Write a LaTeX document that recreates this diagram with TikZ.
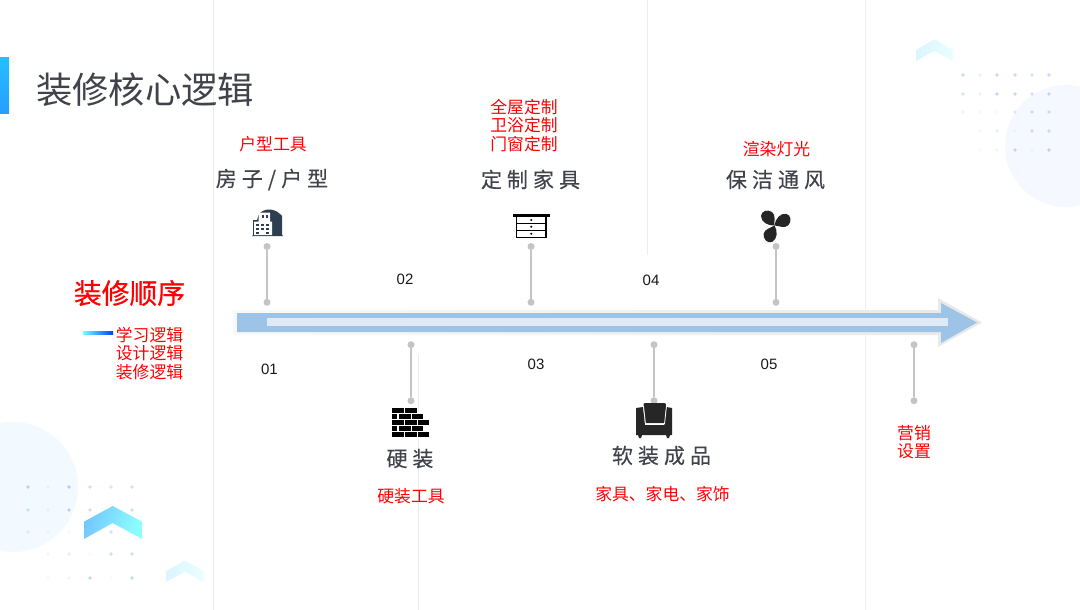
\documentclass[tikz,border=0pt]{standalone}
\usepackage{fontspec}
\usepackage{xcolor}
\usepackage{tikz}
\usetikzlibrary{positioning,shadings}
\setmainfont{Noto Sans CJK SC}
\newfontfamily\trackfont[LetterSpace=24,FakeBold=0.25]{Noto Sans CJK SC}
\newfontfamily\orderfont[FakeBold=0.6]{Noto Sans CJK SC}
\newfontfamily\numfont{Liberation Sans}
\definecolor{inkgray}{RGB}{64,68,74}
\definecolor{stemgray}{RGB}{196,196,196}
\definecolor{guide}{RGB}{238,238,238}
\definecolor{halo}{RGB}{232,232,232}
\definecolor{arrowblue}{RGB}{157,195,230}
\definecolor{arrowpale}{RGB}{222,235,247}
\definecolor{darkicon}{RGB}{38,38,38}
\definecolor{navyicon}{RGB}{44,62,80}
\definecolor{paleleft}{RGB}{243,250,255}
\definecolor{paleright}{RGB}{245,249,255}
\definecolor{speck}{RGB}{90,150,240}

\begin{document}
\begin{tikzpicture}[
  x=1pt, y=-1pt, on grid,
  dot/.style={circle, fill=stemgray, inner sep=0pt, minimum size=7pt},
  stem/.style={draw=stemgray, line width=1.5pt},
  gline/.style={draw=guide, line width=1pt},
  heading/.style={font=\trackfont\fontsize{21}{24}\selectfont, text=inkgray, inner sep=0pt},
  redtext/.style={font=\fontsize{16.8}{18.4}\selectfont, text=red, align=center, inner sep=0pt},
  num/.style={font=\numfont\fontsize{15}{18}\selectfont, text=black!90, inner sep=0pt}
]
\useasboundingbox (0,0) rectangle (1080,610);

% background
\fill[white] (0,0) rectangle (1080,610);
\fill[paleleft] (13,487) circle (65);
\fill[paleright] (1066,146) circle (61);
\draw[gline] (213,0) -- (213,610);
\draw[gline] (865,0) -- (865,610);
\draw[gline] (647,0) -- (647,255);
\draw[gline] (418,354) -- (418,610);
\foreach \x/\y/\o in {28/487/40,48/487/10,69/487/45,90/487/30,111/487/25,132/487/30,
  28/510/25,48/510/10,69/510/40,90/510/30,111/510/30,132/510/30,
  28/532/15,48/532/6,69/532/4,90/532/25,111/532/25,132/532/25,
  48/554/8,69/554/15,90/554/4,111/554/30,132/554/30,
  48/578/5,69/578/10,90/578/35,111/578/5,132/578/35,
  963/75/35,980/75/12,997/75/35,1015/75/35,1032/75/25,1049/75/35,
  963/94/25,980/94/12,997/94/35,1015/94/35,1032/94/25,1049/94/35,
  963/112/12,980/112/6,997/112/6,1015/112/20,1032/112/30,1049/112/30,
  980/131/8,997/131/15,1015/131/6,1032/131/30,1049/131/30,
  980/150/5,997/150/10,1015/150/35,1032/150/8,1049/150/40}
  \fill[speck, opacity=\o/100] (\x,\y) circle (1.9);
\shade[left color=blue!40!cyan!55, right color=cyan!45, shading angle=70]
  (84,521.7) -- (112.7,506) -- (142,521.7) -- (142,539) -- (112.7,523) -- (84,539) -- cycle;
\shade[left color=blue!30!cyan!14, right color=cyan!9]
  (166,571) -- (185,560.7) -- (203.7,571) -- (203.7,582) -- (185,571.7) -- (166,582) -- cycle;
\shade[left color=blue!30!cyan!14, right color=cyan!9]
  (916,50) -- (934.3,39.3) -- (953,50) -- (953,61) -- (934.3,50.7) -- (916,61) -- cycle;

% title
\shade[top color=cyan!70!blue!85, bottom color=blue!45!cyan!85] (0,58) rectangle (9,114);
\node[font=\fontsize{36.3}{40}\selectfont, text=inkgray, inner sep=0pt] (title) at (145,89.5) {装修核心逻辑};

% left column
\node[font=\orderfont\fontsize{27.8}{30}\selectfont, text=red, inner sep=0pt] (order) at (129.5,293) {装修顺序};
\node[redtext] (logic) at (149.5,353.5) {学习逻辑\\设计逻辑\\装修逻辑};
\shade[left color=cyan!55, right color=blue!75!cyan] (83,331.7) rectangle (113,334.3);

% main arrow
\shade[left color=halo!25, right color=halo, middle color=halo!60] (233,310) -- (938,310) -- (938,298) -- (982,322.5) -- (938,347) -- (938,335) -- (233,335) -- cycle;
\fill[arrowblue] (237,313) -- (941,313) -- (941,303) -- (977,322.5) -- (941,343) -- (941,332) -- (237,332) -- cycle;
\fill[arrowpale] (267,318) rectangle (948,326);

% upper stems
\node[dot] (fang) at (267,246.5) {};
\node[dot, below=55.8pt of fang] (fangb) {};
\node[dot] (ding) at (531,246.5) {};
\node[dot, below=55.8pt of ding] (dingb) {};
\node[dot] (bao) at (776,246.5) {};
\node[dot, below=55.8pt of bao] (baob) {};
\draw[stem] (fang) -- (fangb);
\draw[stem] (ding) -- (dingb);
\draw[stem] (bao) -- (baob);

% lower stems
\node[dot] (ying) at (411,344.7) {};
\node[dot, below=56pt of ying] (yingb) {};
\node[dot] (ruan) at (654,344.7) {};
\node[dot, below=56pt of ruan] (ruanb) {};
\node[dot] (xiao) at (914,344.7) {};
\node[dot, below=56pt of xiao] (xiaob) {};
\draw[stem] (ying) -- (yingb);
\draw[stem] (ruan) -- (ruanb);
\draw[stem] (xiao) -- (xiaob);

% headings and labels
\node[heading] (house) at (272,179.5) {房子/户型};
\node[redtext, above=35.5pt of house, xshift=1pt] (housetool) {户型工具};
\node[heading] (custom) at (530.5,179.5) {定制家具};
\node[redtext, above=54pt of custom, xshift=-6.5pt] (customtool) {全屋定制\\卫浴定制\\门窗定制};
\node[heading] (clean) at (775.5,179.5) {保洁通风};
\node[redtext, above=30.5pt of clean, xshift=1pt] (cleantool) {渲染灯光};
\node[heading] (hard) at (410,458.5) {硬装};
\node[redtext, below=37.5pt of hard, xshift=1pt] (hardtool) {硬装工具};
\node[heading] (soft) at (661.5,455.5) {软装成品};
\node[redtext, below=38.5pt of soft, xshift=1pt] (softtool) {家具、家电、家饰};
\node[redtext] (market) at (914,442) {营销\\设置};

% numbers
\node[num] (n01) at (269.5,369.5) {01};
\node[num] (n02) at (405,279.5) {02};
\node[num] (n03) at (536,364.5) {03};
\node[num] (n04) at (651,280.5) {04};
\node[num] (n05) at (769,364.5) {05};

% building icon
\fill[navyicon] (259,214) .. controls (264,208) and (274,208) .. (280,214) -- (282,216) -- (282,235) -- (283,236) -- (252,236) -- (253,235) -- (253,220) -- (257,220) -- cycle;
\fill[white] (254,221.5) rectangle (272,235) (258.5,212.5) rectangle (270,222);
\foreach \x/\y in {261.5/215,265.5/215,256/223.5,261/223.5,266/223.5,256/227.5,261/227.5,266/227.5,256/231.5,266/231.5}
  \fill[navyicon] (\x,\y) rectangle +(2.8,2.6);

% drawer icon
\fill[black] (513,214) rectangle (549.5,216.8);
\draw[black, line width=1.1pt] (516.5,216) rectangle (546,237.7) (516.5,223.5) -- (546,223.5) (516.5,230.5) -- (546,230.5);
\foreach \y in {220,226.7,233.7}
  \fill[black] (531.2,\y) circle (1.1);

% fan icon
\foreach \a in {0,-100,117}
  \fill[darkicon, rotate around={\a:(774.5,225.5)}] (774.5,225.5) .. controls (768,226) and (761,222) .. (761,216) .. controls (761,211) and (768,209) .. (772,212) .. controls (776,215) and (774,221) .. (774.5,225.5) -- cycle;

% brick icon
\foreach \xa/\xb/\y in {392/404/407.5,405/417/407.5,
  392/397/413.8,399/411/413.8,412/423/413.8,
  392/404/420,405/417/420,418/429/420,
  392/397/426.2,399/411/426.2,412/423/426.2,
  392/404/432,405/417/432,418/429/432}
  \fill[black] (\xa,\y) rectangle (\xb,\y+5.2);

% sofa icon
\fill[darkicon] (645,403) -- (664,403) .. controls (666,403) and (666,404) .. (666,406) -- (665,423) -- (645,423) -- (643.5,406) .. controls (643.5,404) and (643.5,403) .. (645,403) -- cycle;
\fill[darkicon] (636,408) -- (643,407) -- (645,425) -- (664,425) -- (666.5,407) -- (672,408) -- (672,435) -- (670,435) -- (669,438) -- (667,438) -- (666,435) -- (642,435) -- (641,438) -- (639,438) -- (638,435) -- (636,435) -- cycle;
\draw[white, line width=0.8pt] (643.5,406) -- (645.5,424) -- (664.5,424) -- (666.5,406);
\end{tikzpicture}
\end{document}
